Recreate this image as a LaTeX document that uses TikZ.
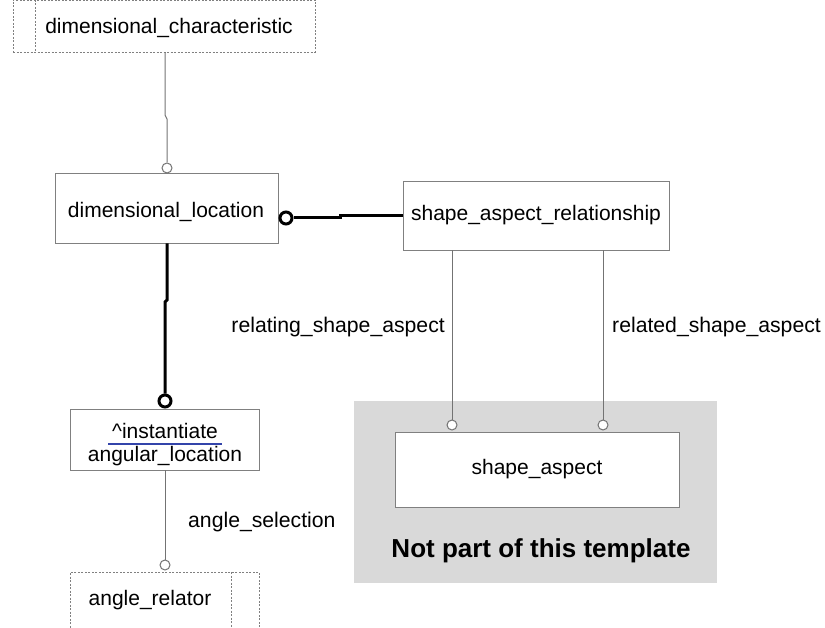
\documentclass[tikz,border=0pt]{standalone}
\usepackage{fontspec}
\setmainfont{Liberation Sans}
\begin{document}
\begin{tikzpicture}[x=1pt,y=-1pt,
  box/.style={draw=black!50,line width=0.9pt,rectangle,inner sep=0pt},
  dbox/.style={draw=black!50,line width=0.9pt,dash pattern=on 2pt off 1.5pt,rectangle,inner sep=0pt},
  lbl/.style={font=\fontsize{21.2}{25}\selectfont,inner sep=0pt},
  btxt/.style={font=\fontsize{21}{25}\selectfont,inner sep=0pt},
  thin/.style={draw=black!55,line width=1pt},
  thick/.style={draw=black,line width=3pt},
  sc/.style={circle,draw=black!55,line width=1pt,fill=white,minimum size=10pt,inner sep=0pt},
  bc/.style={circle,draw=black,line width=3pt,fill=white,minimum size=12pt,inner sep=0pt}]
\useasboundingbox (0,0) rectangle (825,628);
% grey region
\node[fill=black!15,minimum width=363pt,minimum height=182pt,inner sep=0pt] (grey) at (535.5,492) {};
\node[font=\bfseries\fontsize{26}{30}\selectfont,inner sep=0pt] (npt) at (541,551) {Not part of this template};
% boxes
\node[dbox,minimum width=302pt,minimum height=52pt] (dimchar) at (164,26) {};
\draw[dbox] (35,0) -- (35,52);
\node[btxt] (dimchart) at (169,28) {dimensional\_characteristic};
\node[box,minimum width=223pt,minimum height=70pt] (dimloc) at (166.5,208) {};
\node[btxt] (dimloct) at (166,212) {dimensional\_location};
\node[box,minimum width=266pt,minimum height=69pt] (sar) at (536,215.5) {};
\node[btxt] (sart) at (536,215) {shape\_aspect\_relationship};
\node[box,minimum width=189pt,minimum height=61pt] (angloc) at (164.5,439.5) {};
\node[btxt] (inst) at (165,431) {\textasciicircum instantiate};
\node[btxt] (angloct) at (165,456) {angular\_location};
\draw[draw={rgb,255:red,51;green,68;blue,170},line width=2pt] (108,443.5) -- (222,443.5);
\node[dbox,minimum width=189pt,minimum height=62pt] (angrel) at (164.5,603) {};
\draw[dbox] (231,572) -- (231,634);
\node[btxt] (angrelt) at (150,600) {angle\_relator};
\node[box,fill=white,minimum width=284pt,minimum height=75pt] (sa) at (537,469.5) {};
\node[btxt] (sat) at (537,469) {shape\_aspect};
% connector: dimchar -> dimloc
\coordinate (j1) at (165,115);
\coordinate (j2) at (167,119);
\node[sc] (c1) at (167,168) {};
\draw[thin] (dimchar.south -| j1) -- (j1) -- (j2) -- (c1);
% dimloc -> sar
\node[bc] (c2) at (286,218) {};
\coordinate (j3) at (340,218);
\coordinate (j4) at (340,216);
\draw[thick] (c2) -- (j3) -- (j4) -- (sar.west |- j4);
% dimloc -> angloc
\coordinate (j5) at (167,300);
\coordinate (j6) at (165,302);
\node[bc] (c3) at (165,401) {};
\draw[thick] (dimloc.south -| j5) -- (j5) -- (j6) -- (c3);
% angloc -> angrel
\node[sc] (c4) at (165,565) {};
\draw[thin] (angloc.south -| c4) -- (c4);
\node[lbl,anchor=west] (asel) at (188,522) {angle\_selection};
% sar -> sa
\node[sc] (c5) at (452,425) {};
\node[sc] (c6) at (603,425) {};
\draw[thin] (sar.south -| c5) -- (c5);
\draw[thin] (sar.south -| c6) -- (c6);
\node[lbl,anchor=east] (rel1) at (445,327) {relating\_shape\_aspect};
\node[lbl,anchor=west] (rel2) at (612,327) {related\_shape\_aspect};
\end{tikzpicture}
\end{document}
